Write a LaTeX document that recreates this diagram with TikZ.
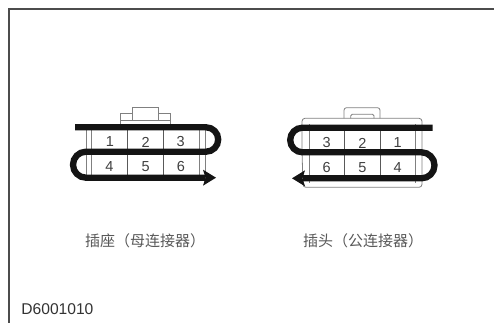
\documentclass[tikz,border=0pt]{standalone}
\usepackage{fontspec}
\setmainfont{Liberation Sans}
\newfontfamily\cjk{Noto Sans CJK SC}
\tikzset{
 x=1pt,y=-1pt,
 frameline/.style={draw=black!70,line width=2pt},
 housing/.style={draw=black!50,line width=.8pt},
 gridline/.style={draw=black!65,line width=.7pt},
 belt/.style={draw=black!92,line width=6.3pt},
 beltend/.style={fill=black!92},
 pin/.style={font=\fontsize{14.5}{15}\selectfont,text=black!75,inner sep=0pt},
 captext/.style={font=\cjk\fontsize{15}{16}\selectfont,text=black!65,inner sep=0pt},
 codetext/.style={font=\fontsize{15.6}{16}\selectfont,text=black!80,inner sep=0pt}
}
\begin{document}
\begin{tikzpicture}
\useasboundingbox (0,0) rectangle (494,322);
\fill[white] (0,0) rectangle (494,322);
\draw[frameline] (9,323) -- (9,9.3) -- (495,9.3);
% left connector housing
\draw[housing] (120.7,124) -- (120.7,113.5) -- (132.3,113.5) -- (132.3,107.7) -- (158.3,107.7) -- (158.3,113.5) -- (170.3,113.5) -- (170.3,124);
\draw[housing] (120.7,120) -- (170.3,120);
\draw[housing] (132.3,113.5) -- (132.3,120) (158.3,113.5) -- (158.3,120);
\draw[housing] (86,124) -- (205.7,124);
\draw[housing] (86,124) -- (86,181) (91.7,124) -- (91.7,181) (199,124) -- (199,181) (205.7,124) -- (205.7,181);
\draw[gridline] (127.7,127) -- (127.7,176) (163.7,127) -- (163.7,176);
% right connector housing
\draw[housing,rounded corners=2.5pt] (344,118.3) -- (344,107.7) -- (380,107.7) -- (380,118.3);
\draw[housing,rounded corners=1.5pt] (350.7,118.3) -- (350.7,114.3) -- (374,114.3) -- (374,118.3);
\draw[housing,rounded corners=3pt] (302,150) -- (302,118.3) -- (422,118.3) -- (422,150);
\draw[housing,rounded corners=3pt] (302,150) -- (303,187.3) -- (422,187.3) -- (422,150);
\draw[housing] (309,124) -- (309,183) (415.7,124) -- (415.7,183);
\draw[gridline] (344,127) -- (344,178) (380,127) -- (380,178);
% pins
\node[pin] (a1) at (110,142) {1};
\node[pin] (a2) at (145.7,142) {2};
\node[pin] (a3) at (180.7,142) {3};
\node[pin] (a4) at (109.3,167) {4};
\node[pin] (a5) at (145.7,167) {5};
\node[pin] (a6) at (181,167) {6};
\node[pin] (b3) at (326.7,143) {3};
\node[pin] (b2) at (362.3,143) {2};
\node[pin] (b1) at (397.7,143) {1};
\node[pin] (b6) at (326.7,167.5) {6};
\node[pin] (b5) at (362.3,167.5) {5};
\node[pin] (b4) at (397.7,167.5) {4};
% belts
\draw[belt] (75,127.3) -- (206,127.3) arc[start angle=-90,end angle=90,radius=12.2] -- (86,151.7) arc[start angle=270,end angle=90,radius=13] -- (205,177.7);
\fill[beltend] (216,177.7) -- (203,169.7) -- (205.5,177.7) -- (203,185.7) -- cycle;
\draw[belt] (432.7,127.7) -- (302.5,127.7) arc[start angle=270,end angle=90,radius=12.3] -- (421.5,152.3) arc[start angle=-90,end angle=90,radius=13] -- (303,178.3);
\fill[beltend] (292,178.3) -- (305,170.3) -- (302.5,178.3) -- (305,186.3) -- cycle;
% captions
\node[captext] (c1) at (145,240.5) {插座（母连接器）};
\node[captext] (c2) at (363,240.5) {插头（公连接器）};
\node[codetext,anchor=west] (d) at (21.2,309) {D6001010};
\end{tikzpicture}
\end{document}
